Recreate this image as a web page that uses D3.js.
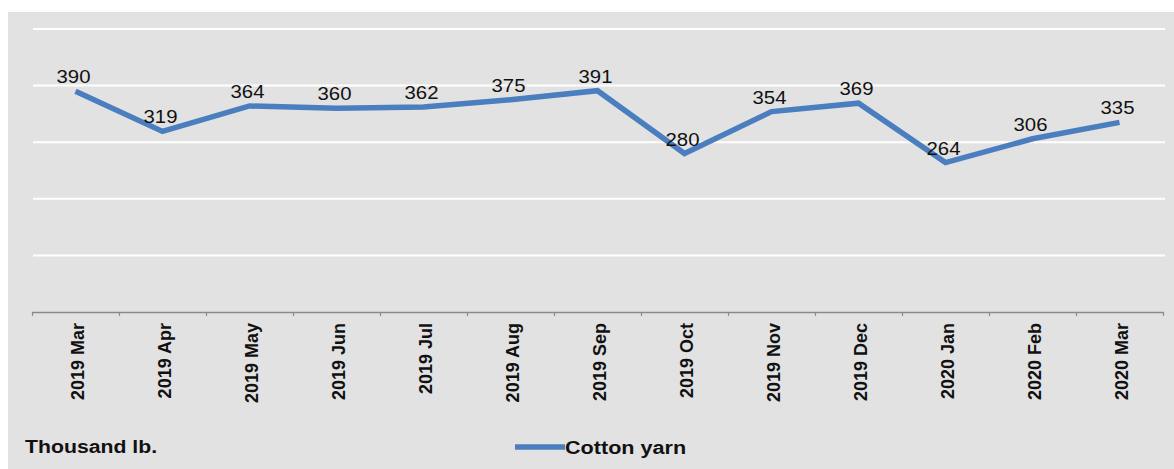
<!DOCTYPE html>
<html>
<head>
<meta charset="utf-8">
<script src="https://cdn.jsdelivr.net/npm/d3@7"></script>
<style>
  html, body { margin: 0; padding: 0; background: #ffffff; }
  svg { display: block; }
  text { font-family: "Liberation Sans", Arial, sans-serif; fill: #111; }
</style>
</head>
<body>
<svg id="chart" width="1174" height="469"></svg>
<script>
const months = ["2019 Mar","2019 Apr","2019 May","2019 Jun","2019 Jul","2019 Aug","2019 Sep","2019 Oct","2019 Nov","2019 Dec","2020 Jan","2020 Feb","2020 Mar"];
const cottonYarn = [390,319,364,360,362,375,391,280,354,369,264,306,335];
const yTicks = [0,100,200,300,400,500];
const seriesName = "Cotton yarn";
const unitLabel = "Thousand lb.";

const svg = d3.select("#chart");
const W = 1174, H = 469;

// panel background
svg.append("rect").attr("x", 8).attr("y", 12).attr("width", W - 8).attr("height", H - 12).attr("fill", "#e2e2e2");

const x = d3.scaleBand().domain(months).range([32, 1163]);
const xb = d3.scaleLinear().domain([0, months.length]).range([32, 1163]);
const y = d3.scaleLinear().domain([0, 500]).range([312, 29]);

// gridlines
svg.append("g").selectAll("line").data(yTicks.filter(d => d > 0)).join("line")
  .attr("x1", 33).attr("x2", 1165)
  .attr("y1", d => y(d)).attr("y2", d => y(d))
  .attr("stroke", "#ffffff").attr("stroke-width", 2);

// x axis
const ax = svg.append("g").attr("transform", `translate(0,${y(0)})`)
  .call(d3.axisBottom(xb).tickValues(d3.range(months.length + 1)).tickFormat("").tickSize(4).tickSizeOuter(0));
ax.select(".domain").attr("stroke", "#8a8a8a").attr("stroke-width", 1.5);
ax.selectAll(".tick line").attr("stroke", "#8a8a8a").attr("stroke-width", 1.2);

// category labels
svg.append("g").selectAll("text").data(months).join("text")
  .attr("transform", d => `translate(${x(d) + x.bandwidth() / 2 + 8.5},323) rotate(-90)`)
  .attr("text-anchor", "end")
  .style("font-size", "18px").style("font-weight", "bold")
  .text(d => d);

// line
const line = d3.line().x((d, i) => x(months[i]) + x.bandwidth() / 2).y(d => y(d));
svg.append("path").datum(cottonYarn)
  .attr("d", line).attr("fill", "none")
  .attr("stroke", "#4a7ebf").attr("stroke-width", 5.5)
  .attr("stroke-linejoin", "miter").attr("stroke-linecap", "butt");

function stretch(sel, k) {
  sel.each(function() {
    const w = this.getComputedTextLength();
    d3.select(this).attr("textLength", w * k).attr("lengthAdjust", "spacingAndGlyphs");
  });
}

// value labels
const vl = svg.append("g").selectAll("text").data(cottonYarn).join("text")
  .attr("x", (d, i) => x(months[i]) + x.bandwidth() / 2 - 2)
  .attr("y", d => y(d) - 8)
  .attr("text-anchor", "middle")
  .style("font-size", "18px")
  .text(d => d);
stretch(vl, 1.13);

// unit label
const ul = svg.append("text").attr("x", 25).attr("y", 453)
  .style("font-size", "18px").style("font-weight", "bold").text(unitLabel);
stretch(ul, 1.18);

// legend
svg.append("line").attr("x1", 515).attr("x2", 565).attr("y1", 447).attr("y2", 447)
  .attr("stroke", "#4a7ebf").attr("stroke-width", 5.5);
const lt = svg.append("text").attr("x", 565).attr("y", 454)
  .style("font-size", "18px").style("font-weight", "bold").text(seriesName);
stretch(lt, 1.2);
</script>
</body>
</html>
